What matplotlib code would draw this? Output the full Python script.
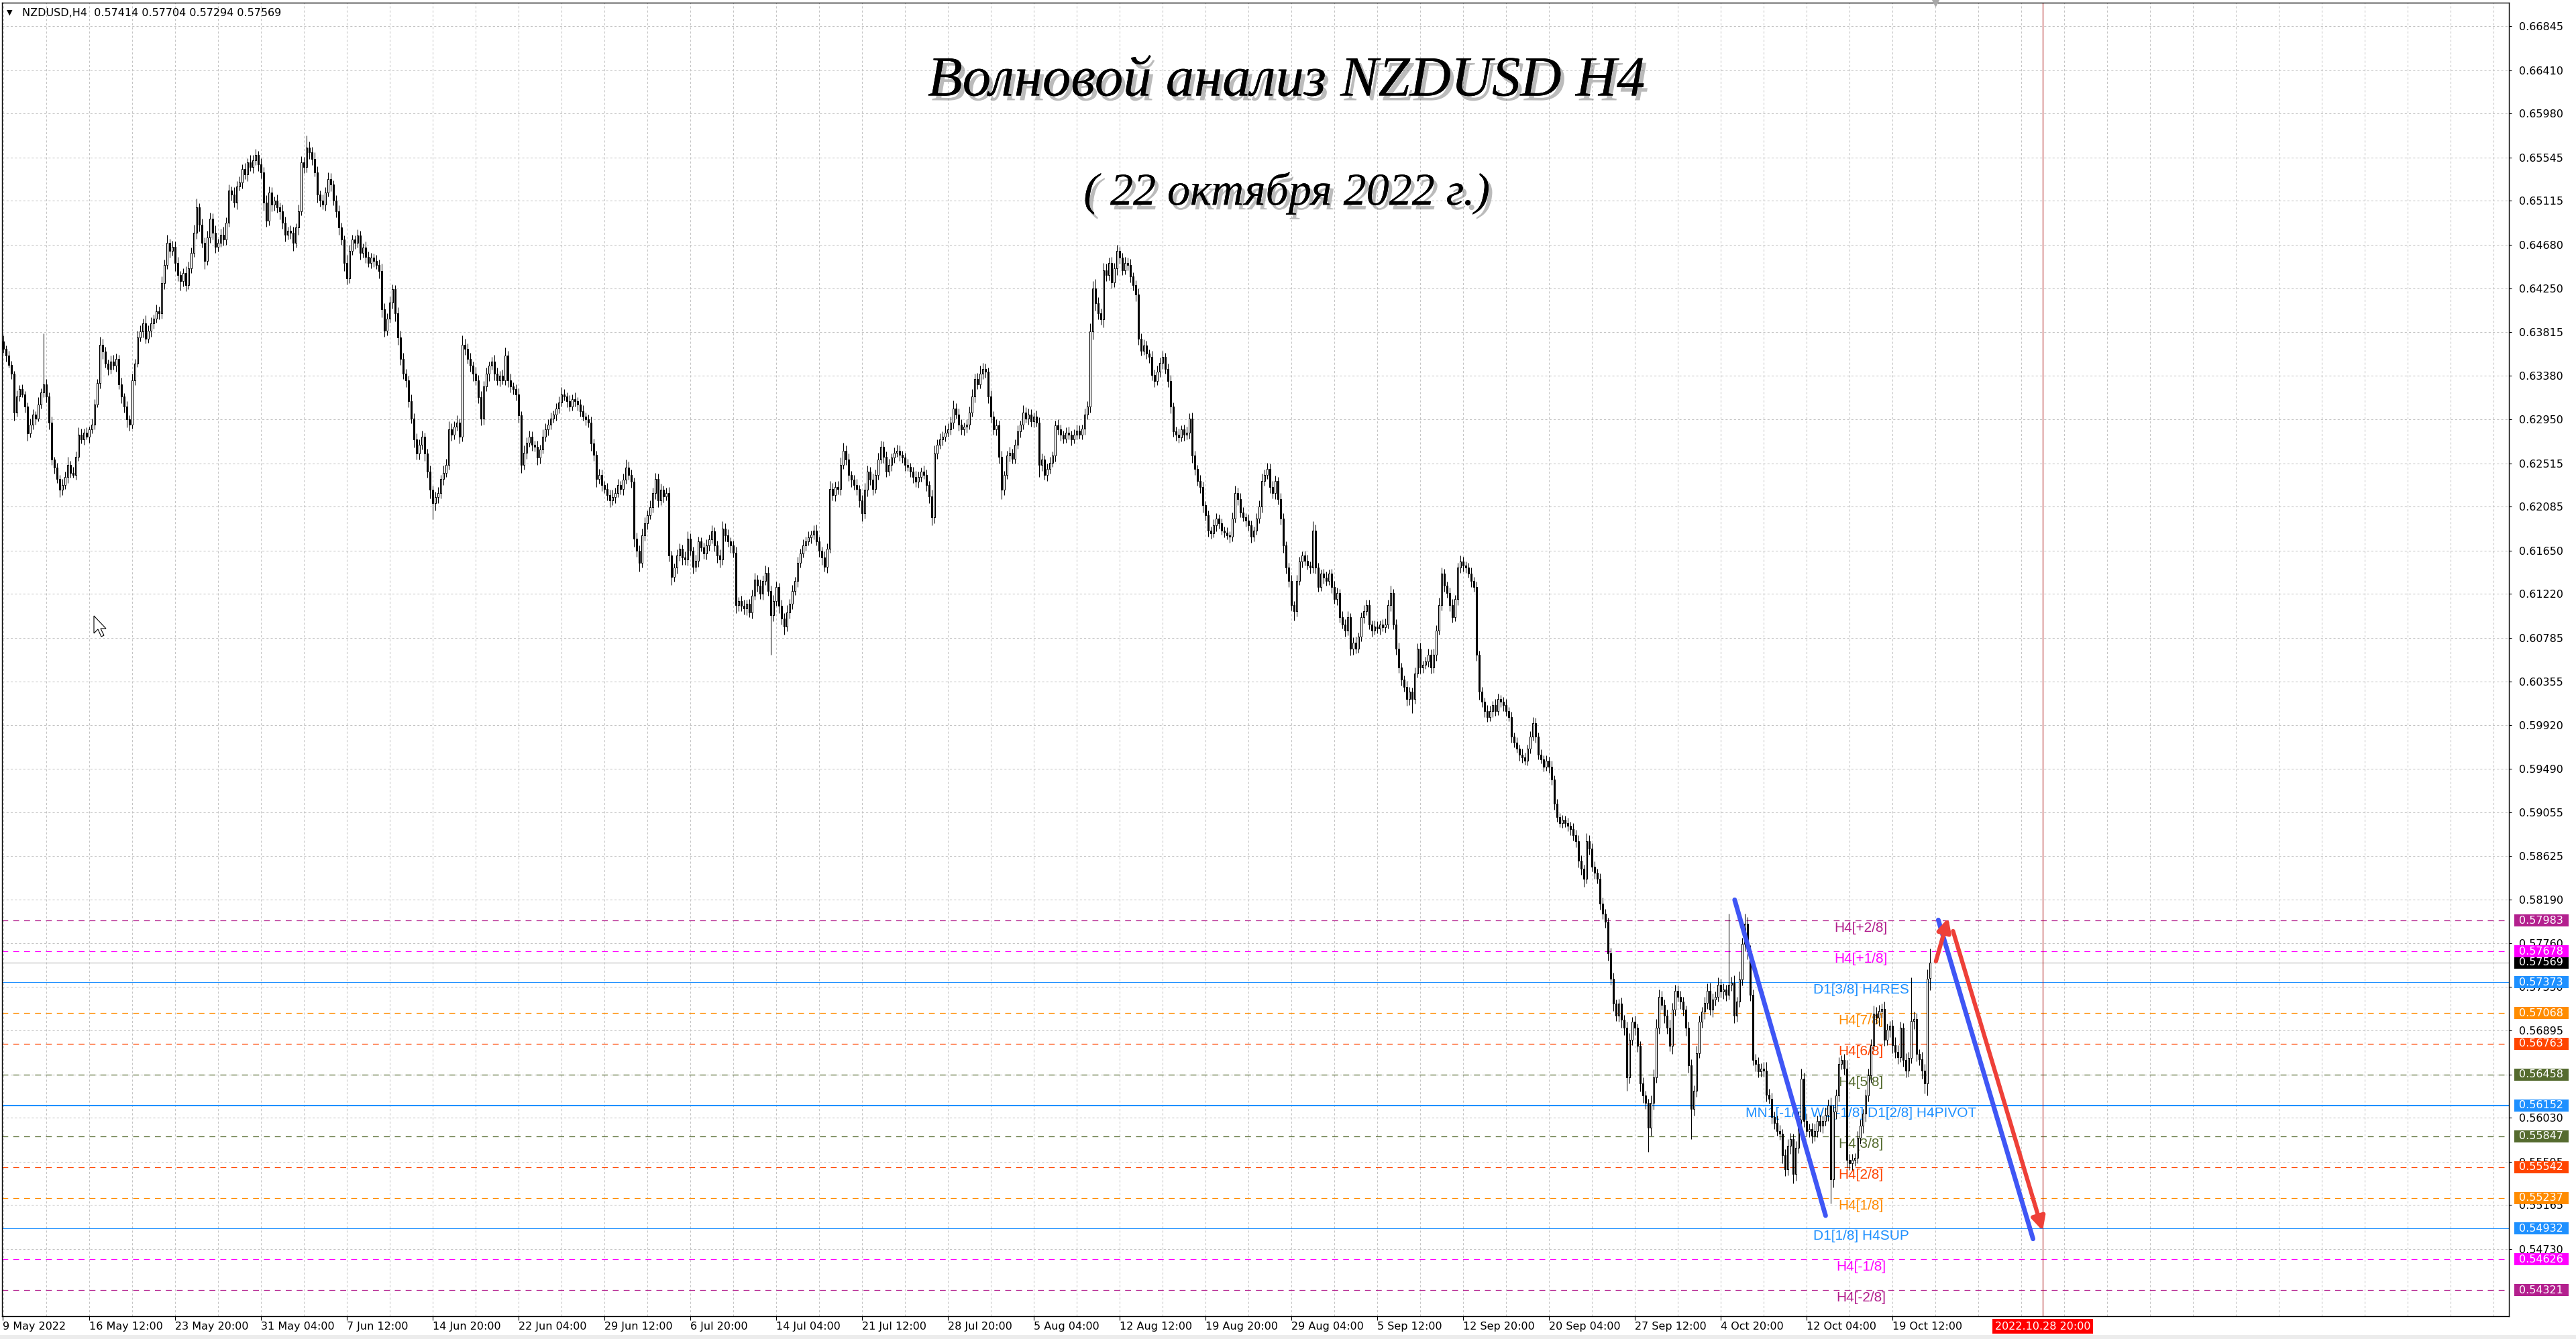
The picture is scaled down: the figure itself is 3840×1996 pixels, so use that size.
import numpy as np
import pandas as pd
import matplotlib
matplotlib.use("Agg")
import matplotlib.pyplot as plt
import matplotlib.patheffects as pe
from matplotlib.patches import Rectangle, Polygon

W, H, DPI = 3840, 1996, 100
plt.rcParams["font.family"] = ["DejaVu Sans"]

symbol = "NZDUSD,H4"
last_ohlc = [0.57414, 0.57704, 0.57294, 0.57569]
start_day = "2022-05-09"
first_open = 6375  # pips

# H4 closes in pips (x 1e-4), one list per trading week (5 days x 6 bars)
wk01 = [6372, 6365, 6358, 6349, 6340, 6302, 6318, 6325, 6320, 6308, 6281, 6290, 6300, 6296, 6310, 6322, 6330, 6318,
        6292, 6255, 6247, 6236, 6225, 6230, 6238, 6250, 6242, 6240, 6258, 6280]
wk02 = [6275, 6282, 6278, 6285, 6290, 6310, 6331, 6369, 6362, 6350, 6345, 6352, 6348, 6355, 6330, 6318, 6308, 6295,
        6290, 6334, 6350, 6376, 6382, 6390, 6375, 6383, 6390, 6395, 6402, 6400]
wk03 = [6430, 6448, 6470, 6462, 6466, 6450, 6438, 6432, 6440, 6428, 6445, 6460, 6480, 6505, 6488, 6470, 6452, 6475,
        6494, 6480, 6466, 6470, 6478, 6473, 6490, 6522, 6518, 6510, 6526, 6530]
wk04 = [6543, 6538, 6550, 6545, 6552, 6557, 6548, 6540, 6510, 6492, 6520, 6508, 6512, 6505, 6501, 6490, 6478, 6482,
        6480, 6470, 6485, 6501, 6550, 6545, 6564, 6560, 6553, 6540, 6518, 6512]
wk05 = [6508, 6520, 6533, 6528, 6512, 6501, 6485, 6473, 6450, 6435, 6462, 6473, 6470, 6477, 6460, 6465, 6456, 6450,
        6455, 6452, 6448, 6442, 6404, 6383, 6395, 6411, 6424, 6400, 6376, 6355]
wk06 = [6340, 6334, 6313, 6296, 6275, 6261, 6270, 6278, 6261, 6243, 6225, 6212, 6218, 6222, 6236, 6242, 6250, 6285,
        6280, 6288, 6292, 6278, 6369, 6365, 6355, 6348, 6340, 6334, 6317, 6296]
wk07 = [6328, 6340, 6348, 6352, 6340, 6334, 6338, 6334, 6358, 6334, 6328, 6325, 6320, 6299, 6250, 6262, 6272, 6278,
        6270, 6268, 6257, 6265, 6278, 6285, 6290, 6296, 6300, 6306, 6312, 6320]
wk08 = [6318, 6313, 6308, 6315, 6313, 6310, 6303, 6298, 6295, 6292, 6271, 6260, 6236, 6240, 6230, 6226, 6220, 6215,
        6218, 6222, 6230, 6226, 6235, 6247, 6240, 6233, 6177, 6165, 6153, 6180]
wk09 = [6192, 6200, 6208, 6222, 6236, 6215, 6225, 6219, 6222, 6160, 6139, 6148, 6160, 6167, 6158, 6156, 6177, 6165,
        6149, 6155, 6174, 6168, 6162, 6170, 6176, 6184, 6170, 6160, 6156, 6187]
wk10 = [6180, 6174, 6170, 6163, 6111, 6115, 6110, 6108, 6112, 6104, 6120, 6136, 6130, 6122, 6135, 6143, 6125, 6101,
        6115, 6129, 6110, 6098, 6090, 6104, 6112, 6125, 6135, 6153, 6162, 6170]
wk11 = [6174, 6178, 6181, 6185, 6174, 6165, 6158, 6149, 6167, 6226, 6220, 6228, 6226, 6250, 6264, 6255, 6240, 6235,
        6230, 6226, 6215, 6202, 6225, 6243, 6235, 6226, 6240, 6255, 6268, 6258]
wk12 = [6243, 6250, 6257, 6262, 6264, 6260, 6257, 6250, 6248, 6243, 6238, 6233, 6238, 6243, 6240, 6230, 6219, 6198,
        6261, 6270, 6275, 6278, 6282, 6285, 6292, 6306, 6300, 6290, 6285, 6288]
wk13 = [6290, 6302, 6318, 6335, 6330, 6340, 6345, 6342, 6318, 6298, 6285, 6289, 6258, 6225, 6240, 6259, 6262, 6256,
        6270, 6283, 6290, 6302, 6296, 6300, 6293, 6298, 6292, 6250, 6255, 6240]
wk14 = [6246, 6252, 6259, 6289, 6285, 6280, 6276, 6282, 6280, 6275, 6280, 6284, 6280, 6286, 6300, 6308, 6382, 6425,
        6410, 6400, 6394, 6443, 6438, 6450, 6431, 6445, 6462, 6455, 6443, 6450]
wk15 = [6448, 6437, 6428, 6419, 6375, 6363, 6368, 6360, 6357, 6339, 6333, 6342, 6351, 6357, 6345, 6333, 6308, 6283,
        6280, 6277, 6285, 6280, 6282, 6296, 6259, 6246, 6234, 6228, 6210, 6200]
wk16 = [6185, 6182, 6190, 6197, 6192, 6185, 6183, 6180, 6179, 6197, 6222, 6216, 6203, 6198, 6195, 6190, 6179, 6185,
        6197, 6209, 6234, 6240, 6246, 6228, 6222, 6234, 6216, 6197, 6170, 6148]
wk17 = [6135, 6111, 6105, 6135, 6154, 6160, 6155, 6150, 6148, 6185, 6148, 6129, 6142, 6138, 6135, 6142, 6129, 6117,
        6123, 6099, 6092, 6086, 6099, 6068, 6074, 6068, 6080, 6099, 6105, 6111]
wk18 = [6092, 6086, 6090, 6088, 6092, 6089, 6092, 6111, 6123, 6092, 6068, 6049, 6037, 6030, 6018, 6025, 6018, 6043,
        6068, 6049, 6052, 6055, 6062, 6049, 6062, 6086, 6111, 6142, 6130, 6123]
wk19 = [6111, 6099, 6117, 6148, 6154, 6150, 6148, 6142, 6135, 6129, 6062, 6025, 6015, 6006, 6000, 6006, 6012, 6006,
        6018, 6015, 6012, 6006, 6000, 5981, 5975, 5969, 5963, 5960, 5957, 5969]
wk20 = [5981, 5994, 5981, 5963, 5958, 5951, 5957, 5951, 5938, 5914, 5901, 5895, 5898, 5895, 5892, 5889, 5883, 5877,
        5858, 5850, 5840, 5877, 5870, 5852, 5846, 5840, 5815, 5805, 5797, 5766]
wk21 = [5741, 5716, 5704, 5716, 5700, 5692, 5643, 5680, 5698, 5692, 5674, 5637, 5625, 5618, 5593, 5618, 5643, 5692,
        5723, 5715, 5704, 5692, 5674, 5710, 5729, 5723, 5718, 5710, 5692, 5655]
wk22 = [5612, 5630, 5667, 5698, 5708, 5717, 5729, 5710, 5720, 5723, 5735, 5728, 5730, 5725, 5735, 5737, 5704, 5718,
        5740, 5775, 5795, 5768, 5725, 5660, 5656, 5649, 5652, 5650, 5626, 5622]
wk23 = [5604, 5598, 5590, 5587, 5566, 5552, 5575, 5582, 5547, 5573, 5601, 5642, 5600, 5590, 5592, 5585, 5590, 5600,
        5595, 5600, 5606, 5615, 5542, 5609, 5625, 5656, 5660, 5652, 5561, 5558]
wk24 = [5561, 5563, 5583, 5595, 5607, 5625, 5645, 5675, 5706, 5702, 5709, 5711, 5680, 5690, 5694, 5675, 5668, 5663,
        5692, 5660, 5650, 5662, 5699, 5701, 5666, 5661, 5650, 5637, 5741, 5757]

# wick lengths above / below the body, pips, same week order
wick_up = [
    4, 6, 3, 5, 4, 3, 6, 4, 5, 3, 4, 6, 5, 3, 7, 4, 50, 5, 4, 6, 3, 5, 4, 6, 5, 8, 4, 6, 5, 7,
    6, 4, 5, 3, 6, 5, 4, 8, 6, 5, 4, 6, 7, 5, 4, 6, 3, 5, 4, 6, 5, 7, 6, 5, 8, 5, 6, 4, 7, 5,
    7, 5, 8, 4, 6, 5, 6, 4, 5, 7, 6, 5, 8, 9, 4, 6, 5, 7, 6, 5, 7, 4, 6, 8, 5, 6, 4, 7, 5, 6,
    5, 6, 4, 7, 5, 6, 4, 6, 5, 7, 6, 5, 4, 6, 5, 7, 6, 4, 5, 6, 4, 7, 6, 5, 12, 6, 5, 7, 6, 4,
    6, 5, 7, 6, 4, 5, 6, 5, 4, 8, 6, 5, 4, 6, 5, 4, 6, 5, 5, 4, 6, 5, 7, 6, 5, 6, 5, 4, 6, 7,
    6, 5, 4, 7, 5, 6, 5, 6, 4, 5, 6, 4, 5, 6, 4, 7, 6, 8, 6, 5, 7, 4, 9, 6, 5, 6, 4, 7, 5, 6,
    5, 6, 4, 5, 7, 6, 5, 6, 8, 5, 6, 4, 5, 6, 4, 7, 5, 6, 5, 4, 6, 5, 7, 6, 5, 6, 4, 5, 6, 7,
    5, 4, 6, 5, 7, 4, 5, 6, 4, 5, 6, 5, 4, 6, 5, 4, 6, 5, 7, 5, 6, 4, 6, 8, 6, 5, 4, 6, 5, 7,
    6, 5, 7, 5, 6, 5, 6, 4, 5, 6, 5, 4, 6, 5, 4, 6, 7, 5, 4, 6, 5, 4, 5, 6, 5, 6, 4, 5, 6, 7,
    5, 6, 4, 5, 6, 4, 5, 6, 4, 5, 6, 7, 5, 6, 5, 7, 6, 5, 6, 5, 4, 6, 5, 7, 5, 6, 4, 6, 5, 6,
    5, 6, 4, 5, 6, 5, 4, 6, 5, 8, 6, 5, 6, 7, 8, 5, 6, 4, 5, 6, 4, 5, 7, 6, 5, 6, 5, 7, 6, 5,
    5, 6, 4, 5, 6, 5, 4, 5, 6, 4, 5, 6, 5, 4, 6, 5, 4, 6, 8, 5, 6, 5, 7, 6, 6, 8, 5, 6, 5, 4,
    5, 6, 7, 5, 6, 8, 6, 5, 4, 6, 5, 6, 5, 6, 4, 5, 6, 4, 5, 6, 4, 7, 5, 6, 5, 4, 6, 5, 6, 4,
    5, 6, 4, 5, 6, 5, 4, 5, 6, 4, 5, 6, 5, 4, 6, 5, 8, 7, 9, 6, 5, 7, 6, 5, 6, 5, 6, 4, 5, 6,
    5, 6, 4, 5, 6, 5, 6, 5, 4, 6, 5, 6, 5, 6, 4, 5, 6, 4, 5, 6, 4, 5, 6, 5, 6, 5, 4, 6, 5, 4,
    5, 4, 6, 5, 4, 5, 4, 5, 4, 6, 7, 5, 6, 5, 4, 6, 5, 4, 5, 6, 7, 5, 6, 5, 6, 5, 4, 6, 5, 4,
    5, 6, 4, 6, 5, 4, 5, 6, 4, 9, 6, 5, 4, 5, 6, 4, 5, 6, 5, 4, 6, 5, 6, 4, 5, 6, 4, 5, 6, 5,
    5, 4, 6, 5, 4, 5, 6, 5, 7, 4, 5, 6, 5, 4, 6, 5, 4, 6, 5, 6, 4, 5, 6, 5, 6, 5, 7, 6, 5, 4,
    5, 6, 4, 5, 6, 5, 4, 5, 6, 4, 5, 4, 5, 4, 6, 5, 4, 6, 5, 4, 5, 6, 4, 5, 4, 5, 4, 6, 5, 4,
    5, 6, 5, 4, 5, 4, 5, 4, 6, 4, 5, 4, 5, 4, 5, 4, 6, 5, 6, 5, 4, 8, 6, 5, 5, 4, 5, 6, 5, 4,
    5, 6, 4, 5, 6, 5, 6, 7, 5, 6, 4, 5, 6, 5, 4, 7, 8, 9, 7, 6, 5, 6, 8, 7, 6, 5, 6, 5, 4, 6,
    6, 5, 7, 6, 5, 6, 7, 8, 6, 5, 7, 6, 6, 5, 70, 6, 7, 5, 8, 6, 10, 7, 6, 5, 6, 7, 5, 6, 8, 6,
    6, 5, 7, 6, 5, 6, 7, 6, 5, 7, 8, 10, 6, 7, 5, 6, 7, 5, 6, 5, 7, 6, 8, 7, 6, 7, 5, 6, 8, 6,
    6, 5, 7, 6, 5, 6, 7, 6, 8, 7, 6, 5, 7, 6, 5, 6, 8, 7, 6, 5, 7, 6, 43, 7, 6, 5, 7, 6, 9, 13,
]
wick_dn = [
    5, 4, 6, 3, 5, 8, 4, 5, 3, 6, 7, 4, 5, 6, 3, 4, 5, 6, 7, 5, 6, 4, 7, 5, 4, 6, 5, 3, 5, 4,
    4, 5, 3, 6, 4, 5, 3, 5, 7, 4, 6, 5, 4, 6, 5, 7, 6, 8, 6, 4, 5, 3, 4, 6, 5, 4, 6, 5, 4, 6,
    5, 6, 4, 7, 5, 8, 6, 9, 5, 6, 4, 5, 4, 6, 7, 5, 8, 4, 5, 7, 6, 5, 4, 6, 5, 4, 6, 5, 7, 4,
    6, 5, 7, 4, 6, 5, 7, 6, 8, 6, 5, 7, 6, 5, 8, 6, 7, 5, 6, 8, 5, 7, 4, 6, 5, 7, 6, 4, 8, 6,
    5, 6, 4, 7, 5, 6, 7, 5, 8, 6, 5, 4, 6, 5, 7, 5, 6, 4, 5, 6, 4, 7, 8, 6, 5, 4, 6, 8, 7, 6,
    5, 7, 6, 5, 8, 6, 6, 5, 7, 6, 8, 16, 7, 6, 5, 6, 4, 5, 6, 5, 4, 7, 5, 6, 5, 6, 7, 5, 6, 7,
    6, 5, 7, 4, 6, 5, 6, 4, 5, 7, 6, 5, 6, 7, 8, 5, 6, 4, 6, 5, 7, 6, 4, 5, 6, 5, 4, 6, 5, 4,
    4, 6, 5, 4, 5, 6, 5, 4, 6, 5, 7, 6, 8, 5, 6, 4, 5, 7, 5, 6, 4, 5, 6, 4, 5, 6, 8, 6, 9, 5,
    5, 6, 4, 5, 6, 7, 5, 6, 4, 6, 8, 5, 6, 5, 7, 5, 6, 5, 7, 5, 6, 4, 5, 6, 5, 4, 6, 7, 8, 5,
    6, 5, 7, 5, 8, 6, 5, 6, 7, 5, 6, 4, 6, 5, 6, 4, 5, 39, 6, 5, 7, 6, 8, 5, 6, 5, 4, 6, 5, 4,
    5, 4, 6, 5, 4, 6, 7, 5, 6, 4, 5, 6, 5, 6, 4, 5, 6, 7, 5, 6, 7, 8, 5, 6, 5, 6, 4, 5, 4, 6,
    5, 4, 6, 5, 4, 6, 5, 6, 4, 5, 6, 5, 6, 5, 4, 6, 7, 8, 6, 5, 4, 6, 5, 4, 5, 6, 4, 6, 5, 6,
    6, 5, 4, 6, 5, 4, 5, 6, 7, 6, 5, 6, 7, 9, 5, 4, 6, 5, 5, 4, 6, 5, 4, 6, 5, 6, 4, 12, 6, 5,
    6, 5, 4, 6, 5, 6, 5, 4, 5, 6, 4, 5, 4, 5, 6, 5, 6, 8, 7, 6, 5, 8, 6, 5, 6, 5, 7, 6, 5, 4,
    5, 6, 5, 7, 6, 5, 4, 5, 6, 5, 6, 4, 5, 6, 5, 6, 7, 5, 6, 5, 4, 6, 5, 6, 7, 6, 5, 6, 7, 5,
    6, 5, 4, 6, 5, 4, 5, 4, 6, 5, 4, 6, 5, 4, 6, 5, 6, 5, 4, 5, 6, 5, 4, 6, 5, 6, 5, 6, 7, 6,
    6, 5, 9, 5, 4, 6, 5, 4, 6, 5, 6, 5, 4, 6, 5, 4, 6, 5, 6, 5, 4, 6, 5, 7, 6, 5, 4, 5, 6, 4,
    5, 6, 4, 5, 6, 4, 5, 4, 6, 5, 6, 5, 6, 5, 7, 6, 14, 5, 4, 6, 5, 4, 5, 6, 5, 6, 4, 5, 6, 5,
    6, 5, 4, 6, 5, 6, 5, 4, 6, 5, 6, 8, 5, 6, 5, 4, 6, 5, 4, 5, 6, 5, 4, 6, 5, 4, 6, 5, 4, 5,
    5, 4, 6, 5, 4, 5, 4, 6, 5, 6, 5, 4, 5, 4, 5, 6, 5, 6, 7, 6, 8, 5, 6, 5, 6, 5, 6, 5, 6, 7,
    6, 7, 5, 6, 8, 7, 13, 6, 5, 7, 6, 8, 7, 6, 24, 8, 7, 5, 6, 5, 7, 6, 5, 8, 6, 5, 7, 6, 8, 7,
    30, 7, 6, 5, 6, 7, 6, 5, 7, 6, 5, 6, 7, 6, 5, 6, 7, 6, 5, 6, 7, 8, 6, 5, 7, 6, 5, 6, 7, 5,
    7, 6, 5, 6, 8, 7, 6, 8, 9, 6, 5, 7, 6, 5, 6, 7, 5, 6, 6, 7, 5, 6, 24, 8, 7, 6, 5, 6, 8, 7,
    7, 6, 5, 6, 7, 8, 6, 7, 5, 6, 8, 7, 6, 5, 7, 8, 6, 7, 5, 6, 7, 6, 5, 8, 7, 6, 8, 10, 12, 12,
]

# Murrey levels drawn by the indicator
level_price = [0.57983, 0.57678, 0.57373, 0.57068, 0.56763, 0.56458, 0.56152,
               0.55847, 0.55542, 0.55237, 0.54932, 0.54626, 0.54321]
level_name = ["H4[+2/8]", "H4[+1/8]", "D1[3/8] H4RES", "H4[7/8]", "H4[6/8]", "H4[5/8]",
              "MN1[-1/8] W1[-1/8] D1[2/8] H4PIVOT", "H4[3/8]", "H4[2/8]", "H4[1/8]",
              "D1[1/8] H4SUP", "H4[-1/8]", "H4[-2/8]"]
level_color = ["#B3208E", "#FF00FF", "#1E90FF", "#FF8C00", "#FF4500", "#556B2F", "#1E90FF",
               "#556B2F", "#FF4500", "#FF8C00", "#1E90FF", "#FF00FF", "#B3208E"]
level_kind = ["dash", "dash", "solid", "dash", "dash", "dash", "pivot",
              "dash", "dash", "dash", "solid", "dash", "dash"]

price_ticks = [0.66845, 0.66410, 0.65980, 0.65545, 0.65115, 0.64680, 0.64250, 0.63815, 0.63380,
               0.62950, 0.62515, 0.62085, 0.61650, 0.61220, 0.60785, 0.60355, 0.59920, 0.59490,
               0.59055, 0.58625, 0.58190, 0.57760, 0.57330, 0.56895, 0.56460, 0.56030, 0.55595,
               0.55165, 0.54730]

# hand-drawn objects (bar index, price)
blue_x = [[646.2, 680.1], [722.1, 757.4]]
blue_y = [[0.5819, 0.5506], [0.5799, 0.5483]]
red_up_x, red_up_y = [721.2, 725.8], [0.5758, 0.5801]
red_dn_x, red_dn_y = [727.6, 761.0], [0.5788, 0.5491]
vline_time = "2022-10-28 20:00"

title = "Волновой анализ NZDUSD H4"
subtitle = "( 22 октября 2022 г.)"

# ---------------------------------------------------------------- data prep
weeks = [wk01, wk02, wk03, wk04, wk05, wk06, wk07, wk08, wk09, wk10, wk11, wk12,
         wk13, wk14, wk15, wk16, wk17, wk18, wk19, wk20, wk21, wk22, wk23, wk24]
close = np.concatenate(weeks) / 1e4
n = len(close)
opn = np.r_[first_open / 1e4, close[:-1]]
high = np.maximum(opn, close) + np.array(wick_up[:n]) / 1e4
low = np.minimum(opn, close) - np.array(wick_dn[:n]) / 1e4
opn[-1], high[-1], low[-1], close[-1] = last_ohlc

days = pd.bdate_range(start_day, periods=n // 6)
times = [d + pd.Timedelta(hours=h) for d in days for h in range(0, 24, 4)]
vline_bar = n - 1 + (pd.Timestamp(vline_time) - times[-1]) / pd.Timedelta(hours=4)

# ---------------------------------------------------------------- layout
AX_L, AX_R, AX_T, AX_B = 3, 3740, 4, 1962
Y_TOP, Y_BOT = 0.67079, 0.54064
X_LEFT, X_RIGHT = 0.5, 934.75

fig = plt.figure(figsize=(W / DPI, H / DPI), dpi=DPI, facecolor="white")
ax = fig.add_axes([AX_L / W, (H - AX_B) / H, (AX_R - AX_L) / W, (AX_B - AX_T) / H])
ax.set_xlim(X_LEFT, X_RIGHT)
ax.set_ylim(Y_BOT, Y_TOP)
for s in ax.spines.values():
    s.set_color("black")
    s.set_linewidth(1.0)

# grid
grid_kw = dict(color="#c4c4c4", lw=0.75, ls=(0, (3, 3)), zorder=0)
for p in price_ticks:
    ax.axhline(p, **grid_kw)
for gx in range(1, int(X_RIGHT), 16):
    ax.axvline(gx, **grid_kw)

# levels
for p, name, c, kind in zip(level_price, level_name, level_color, level_kind):
    if kind == "dash":
        ax.axhline(p, color=c, lw=0.9, ls=(0, (7, 6)), zorder=1)
    else:
        ax.axhline(p, color=c, lw=1.5 if kind == "pivot" else 0.8, zorder=1)
    ax.annotate(name, (693.3, p), xytext=(0, -2), textcoords="offset pixels",
                ha="center", va="top", color=c, fontsize=15,
                family=["Liberation Sans", "DejaVu Sans"], zorder=2)
ax.axhline(close[-1], color="#c0c0c0", lw=0.9, zorder=1)  # bid line
ax.axvline(vline_bar, color="#b01c1c", lw=0.8, zorder=1)

# candles
x = np.arange(n)
ax.vlines(x, low, high, color="black", lw=0.75, zorder=3)
bull = close >= opn
ax.bar(x[bull], (close - opn)[bull], bottom=opn[bull], width=0.5,
       facecolor="white", edgecolor="black", linewidth=0.75, zorder=4)
ax.bar(x[~bull], (opn - close)[~bull], bottom=close[~bull], width=0.5,
       facecolor="black", edgecolor="black", linewidth=0.75, zorder=4)

# trend lines and arrows
for bx, by in zip(blue_x, blue_y):
    ax.plot(bx, by, color="#3F56F5", lw=5, solid_capstyle="round", zorder=6)
for xs, ys in ((red_up_x, red_up_y), (red_dn_x, red_dn_y)):
    ax.annotate("", xy=(xs[1], ys[1]), xytext=(xs[0], ys[0]),
                arrowprops=dict(arrowstyle="-|>", color="#EE4038", lw=4.5,
                                mutation_scale=30, shrinkA=0, shrinkB=0,
                                capstyle="round"), zorder=7)
ax.plot([721], [Y_TOP], marker="v", color="#a8a8a8", ms=7, clip_on=False, zorder=8)

# axes ticks
ax.yaxis.tick_right()
ax.set_yticks(price_ticks)
ax.set_yticklabels([f"{v:.5f}" for v in price_ticks], fontsize=11.5)
ax.tick_params(axis="y", length=3, width=0.8, pad=8, direction="out")
tick_bars = [X_LEFT + 0.25] + list(range(33, n, 32))
tick_text = [f"{times[0].day} {times[0]:%b} {times[0].year}"] + \
    [f"{times[b].day} {times[b]:%b} {times[b]:%H:%M}" for b in tick_bars[1:]]
ax.set_xticks(tick_bars)
ax.set_xticklabels(tick_text, fontsize=11.5, ha="left")
ax.tick_params(axis="x", length=4, width=0.8, pad=2, direction="out")

# price tags on the right scale
fig.canvas.draw()


def ypix(p):
    return ax.transData.transform((X_LEFT, p))[1]


def tag(p, color):
    yp = ypix(p)
    fig.add_artist(Rectangle((3748 / W, (yp - 9) / H), 81 / W, 18 / H, transform=fig.transFigure,
                             facecolor=color, edgecolor="none", zorder=5))
    fig.text(3755 / W, yp / H, f"{p:.5f}", color="white", fontsize=11.5,
             ha="left", va="center", zorder=6)


tag(close[-1], "black")
for p, c in zip(level_price, level_color):
    tag(p, c)

# future date box on the time scale
fig.text((ax.transData.transform((vline_bar, Y_BOT))[0]) / W, 1 - 1977 / H,
         f"{pd.Timestamp(vline_time):%Y.%m.%d %H:%M}", color="white", fontsize=11.5,
         ha="center", va="center",
         bbox=dict(boxstyle="square,pad=0.22", facecolor="#FF0000", edgecolor="none"))

# header
fig.text(10 / W, 1 - 19 / H, "▼", fontsize=8, va="center")
fig.text(33 / W, 1 - 19 / H, f"{symbol}  " + " ".join(f"{v:.5f}" for v in last_ohlc),
         fontsize=11.5, va="center")

# title
shadow = [pe.withSimplePatchShadow(offset=(4, -5), shadow_rgbFace="#555555", alpha=0.4), pe.Normal()]
fig.text(1918 / W, 1 - 122 / H, title, ha="center", va="center", fontsize=61,
         family=["Liberation Serif", "DejaVu Serif"], style="italic", path_effects=shadow)
fig.text(1918 / W, 1 - 288 / H, subtitle, ha="center", va="center", fontsize=49,
         family=["Liberation Serif", "DejaVu Serif"], style="italic", path_effects=shadow)

# mouse pointer left on the chart
cursor = np.array([[0, 0], [0, 26], [6, 20], [11, 31], [15, 29], [10, 19], [18, 19]])
fig.add_artist(Polygon(np.c_[(140 + cursor[:, 0]) / W, 1 - (918 + cursor[:, 1]) / H],
                       closed=True, transform=fig.transFigure, facecolor="white",
                       edgecolor="black", lw=0.8, zorder=9))

fig.add_artist(Rectangle((0, 0), 1, 6 / H, transform=fig.transFigure,
                         facecolor="#ececec", edgecolor="none"))

fig.savefig("out.png", dpi=DPI, facecolor="white")
